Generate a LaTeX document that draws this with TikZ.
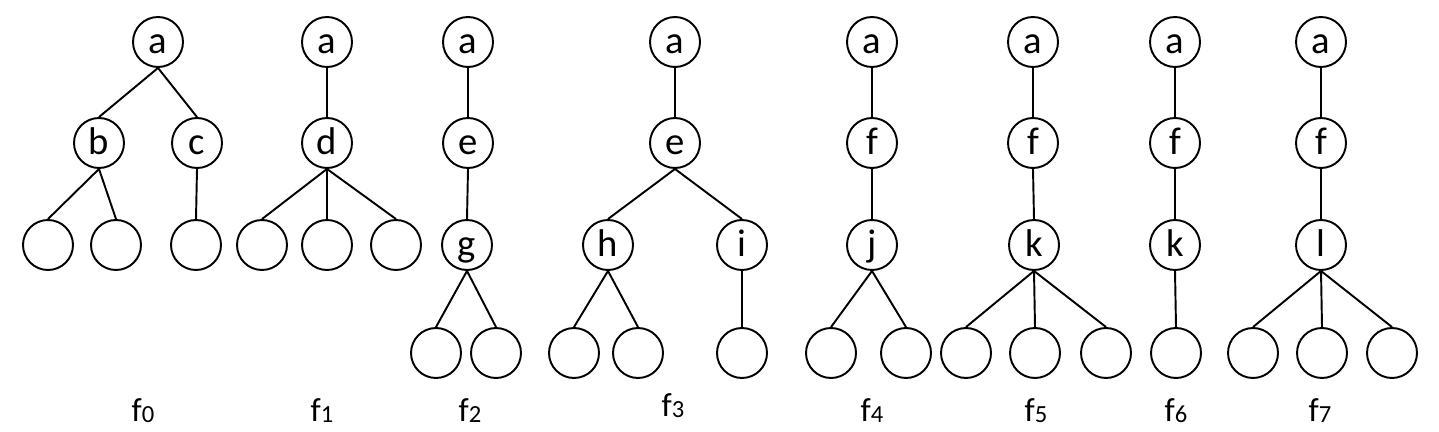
\documentclass[tikz,border=0pt]{standalone}
\usepackage{fontspec}
\setmainfont{Carlito}
\usepackage{tikz}
\usetikzlibrary{automata,positioning}
\newcommand{\Fsub}[1]{f\raisebox{-0.03em}{\fontsize{14}{14}\selectfont #1}}

\begin{document}
\begin{tikzpicture}[x=0.02cm, y=-0.02cm, line width=1.1pt, font=\fontsize{22}{24}\selectfont]
		\tikzstyle{every state}=[draw=black,text=black,inner sep=0pt,minimum
		size=1cm,line width=1.1pt,text height=13.5pt,text depth=0pt]
		\tikzstyle{every edge}=[draw,line width=1.1pt]
		\tikzstyle{tree label}=[font=\fontsize{19}{21}\selectfont]
		\useasboundingbox (0,0) rectangle (1439,432);

		% f0
		\node[state] (0a) at (158,42) {a}; \node[state] (0b) at (99,143) {b};
		\node[state] (0c) at (197,143) {c}; \node[state] (0x) at (48,245) {};
		\node[state] (0y) at (116,245) {}; \node[state] (0z) at (196,245) {};
		\node[tree label] (f0) at (143,411) {\Fsub{0}};
		\path (0a.south) edge (0b.north) (0a.south) edge (0c.north)
		(0b.south) edge (0x.north) (0b.south) edge (0y.north) (0c.south) edge
		(0z.north);

		% f1
		\node[state] (1a) at (327,42) {a}; \node[state] (1d) at (327,143) {d};
		\node[state] (1x) at (262,245) {}; \node[state] (1y) at (327,245) {};
		\node[state] (1z) at (396,245) {};
		\node[tree label] (f1) at (322,411) {\Fsub{1}};
		\path (1a.south) edge (1d.north) (1d.south) edge (1x.north) (1d.south)
		edge (1y.north) (1d.south) edge (1z.north);

		% f2
		\node[state] (2a) at (468,42) {a}; \node[state] (2e) at (468,143) {e};
		\node[state] (2g) at (467,245) {g}; \node[state] (2x) at (436,353) {};
		\node[state] (2y) at (496,353) {};
		\node[tree label] (f2) at (470,411) {\Fsub{2}};
		\path (2a.south) edge (2e.north) (2e.south) edge (2g.north) (2g.south)
		edge (2x.north) (2g.south) edge (2y.north);

		% f3
		\node[state] (3a) at (675,42) {a}; \node[state] (3e) at (675,143) {e};
		\node[state] (3h) at (608,245) {h}; \node[state] (3i) at (742,245) {i};
		\node[state] (3x) at (574,353) {}; \node[state] (3y) at (638,353) {};
		\node[state] (3z) at (742,353) {};
		\node[tree label] (f3) at (673,406) {\Fsub{3}};
		\path (3a.south) edge (3e.north) (3e.south) edge (3h.north) (3e.south)
		edge (3i.north) (3h.south) edge (3x.north) (3h.south) edge (3y.north)
		(3i.south) edge (3z.north);

		% f4
		\node[state] (4a) at (872,42) {a}; \node[state] (4f) at (872,143) {f};
		\node[state] (4j) at (872,245) {j}; \node[state] (4x) at (831,353) {};
		\node[state] (4y) at (906,353) {};
		\node[tree label] (f4) at (872,411) {\Fsub{4}};
		\path (4a.south) edge (4f.north) (4f.south) edge (4j.north) (4j.south)
		edge (4x.north) (4j.south) edge (4y.north);

		% f5
		\node[state] (5a) at (1033,42) {a}; \node[state] (5f) at (1033,143) {f};
		\node[state] (5k) at (1034,245) {k}; \node[state] (5x) at (966,353) {};
		\node[state] (5y) at (1035,353) {}; \node[state] (5z) at (1106,353) {};
		\node[tree label] (f5) at (1036,411) {\Fsub{5}};
		\path (5a.south) edge (5f.north) (5f.south) edge (5k.north) (5k.south)
		edge (5x.north) (5k.south) edge (5y.north) (5k.south) edge (5z.north);

		% f6
		\node[state] (6a) at (1175,42) {a}; \node[state] (6f) at (1175,143) {f};
		\node[state] (6k) at (1175,245) {k}; \node[state] (6x) at (1176,353) {};
		\node[tree label] (f6) at (1176,411) {\Fsub{6}};
		\path (6a.south) edge (6f.north) (6f.south) edge (6k.north) (6k.south)
		edge (6x.north);

		% f7
		\node[state] (7a) at (1321,42) {a}; \node[state] (7f) at (1321,143) {f};
		\node[state] (7l) at (1321,245) {l}; \node[state] (7x) at (1253,353) {};
		\node[state] (7y) at (1322,353) {}; \node[state] (7z) at (1392,353) {};
		\node[tree label] (f7) at (1320,411) {\Fsub{7}};
		\path (7a.south) edge (7f.north) (7f.south) edge (7l.north) (7l.south)
		edge (7x.north) (7l.south) edge (7y.north) (7l.south) edge (7z.north);
	\end{tikzpicture}
\end{document}
